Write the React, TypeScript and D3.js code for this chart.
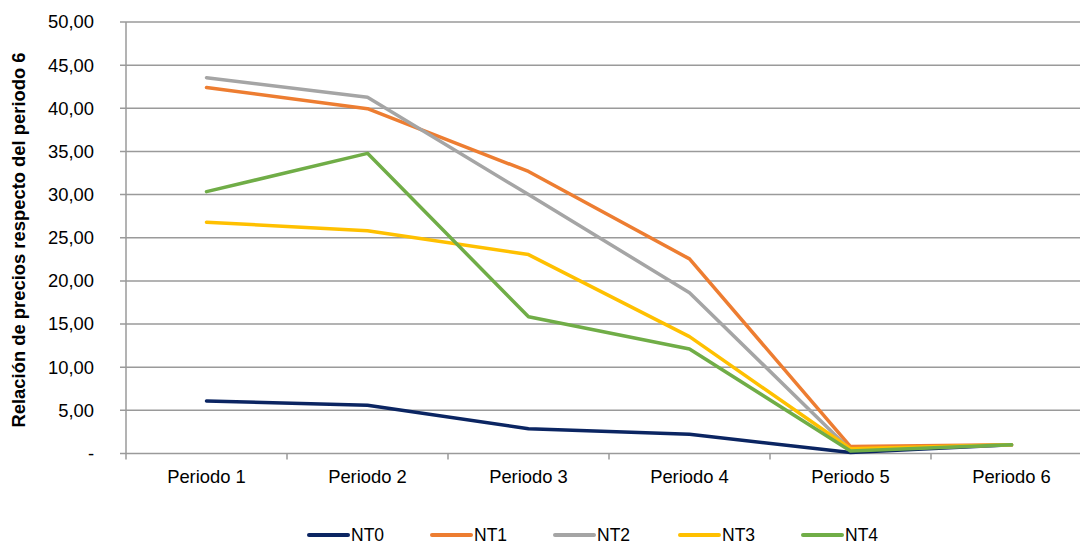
import React from "react";
import * as d3 from "d3";

const categories = ["Periodo 1", "Periodo 2", "Periodo 3", "Periodo 4", "Periodo 5", "Periodo 6"];
const seriesNames = ["NT0", "NT1", "NT2", "NT3", "NT4"];
const nt0 = [6.08, 5.6, 2.87, 2.22, 0.12, 1.0];
const nt1 = [42.4, 39.95, 32.68, 22.55, 0.8, 1.0];
const nt2 = [43.55, 41.27, 30.0, 18.64, 0.4, 1.0];
const nt3 = [26.8, 25.82, 23.05, 13.54, 0.55, 1.0];
const nt4 = [30.34, 34.78, 15.85, 12.11, 0.3, 1.0];
const seriesValues = [nt0, nt1, nt2, nt3, nt4];
const colors = ["#0b2562", "#ED7D31", "#A5A5A5", "#FFC000", "#70AD47"];
const yTicks = [0, 5, 10, 15, 20, 25, 30, 35, 40, 45, 50];
const yTitle = "Relación de precios respecto del periodo 6";

const W = 1080;
const H = 544;
const left = 126;
const right = 1092;
const top = 22;
const bottom = 453.5;

export default function App() {
  const x = d3.scalePoint<string>().domain(categories).range([left, right]).padding(0.5);
  const band = x.step();
  const y = d3.scaleLinear().domain([0, 50]).range([bottom, top]);
  const line = d3
    .line<number>()
    .x((_, i) => x(categories[i]) as number)
    .y((d) => y(d));
  const fmt = (v: number) => (v === 0 ? "-" : v.toFixed(2).replace(".", ","));
  const font = "'Liberation Sans', Arial, sans-serif";
  const legendX = [309, 432, 555, 680, 803];
  const fs = 18.4;

  return (
    <svg
      width={W}
      height={H}
      style={{ position: "absolute", left: 0, top: 0, display: "block", background: "#fff" }}
      fontFamily={font}
    >
      {yTicks.map((t) => (
        <g key={t}>
          <line x1={left - 6} x2={right} y1={y(t)} y2={y(t)} stroke="#9a9a9a" strokeWidth={1.5} />
          <text x={94} y={y(t)} dy="0.35em" textAnchor="end" fontSize={fs} fill="#000">
            {fmt(t)}
          </text>
        </g>
      ))}
      <line x1={left} x2={left} y1={top} y2={bottom + 6} stroke="#9a9a9a" strokeWidth={1.5} />
      {categories.map((c, i) => (
        <line
          key={"t" + i}
          x1={left + band * (i + 1)}
          x2={left + band * (i + 1)}
          y1={bottom}
          y2={bottom + 6}
          stroke="#9a9a9a"
          strokeWidth={1.5}
        />
      ))}
      {categories.map((c) => (
        <text key={c} x={x(c)} y={483} textAnchor="middle" fontSize={fs} fill="#000">
          {c}
        </text>
      ))}
      {seriesValues.map((vals, i) => (
        <path
          key={seriesNames[i]}
          d={line(vals) || ""}
          fill="none"
          stroke={colors[i]}
          strokeWidth={3.5}
          strokeLinejoin="round"
          strokeLinecap="round"
        />
      ))}
      <text
        transform={`translate(25, 240) rotate(-90)`}
        textAnchor="middle"
        fontSize={18.4}
        fontWeight="bold"
        fill="#000"
      >
        {yTitle}
      </text>
      {seriesNames.map((n, i) => (
        <g key={"lg" + n}>
          <line
            x1={legendX[i]}
            x2={legendX[i] + 39}
            y1={535}
            y2={535}
            stroke={colors[i]}
            strokeWidth={4}
            strokeLinecap="round"
          />
          <text x={legendX[i] + 42} y={540.5} fontSize={17.5} fill="#000">
            {n}
          </text>
        </g>
      ))}
    </svg>
  );
}
